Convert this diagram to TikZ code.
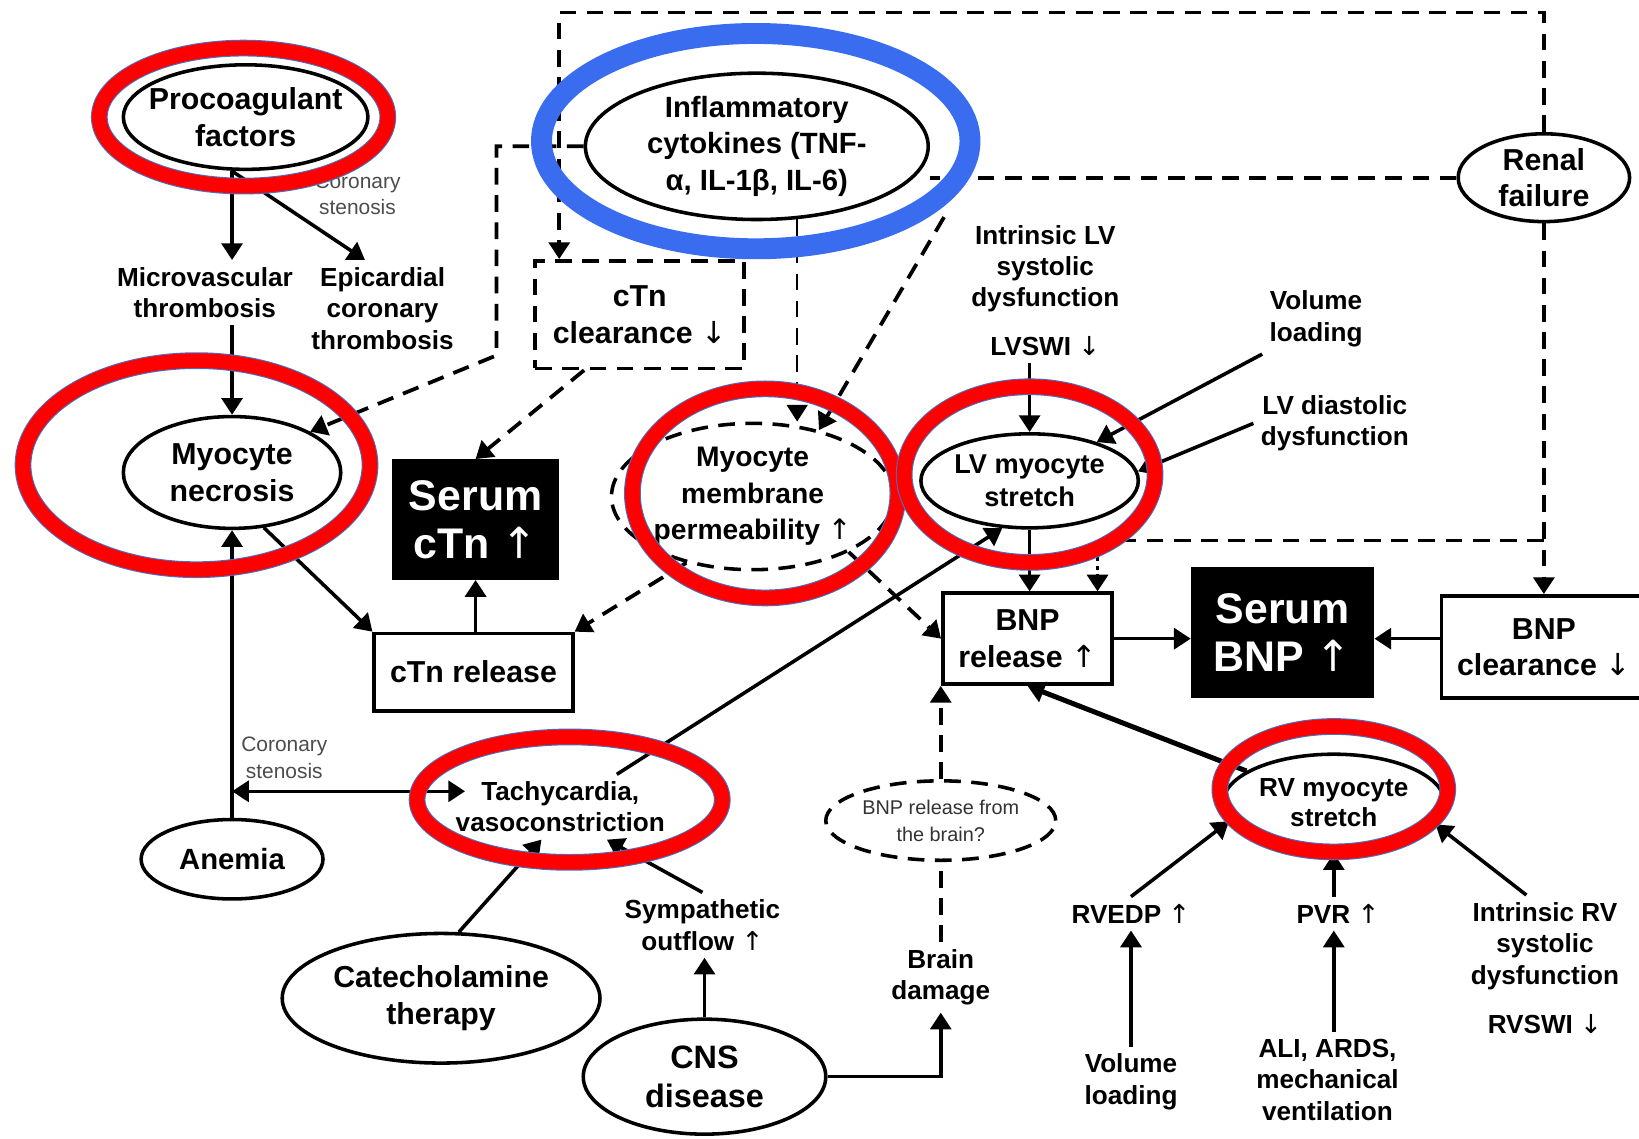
\documentclass[tikz,border=0pt]{standalone}
\usepackage{fontspec}
\setmainfont{Liberation Sans}
\newfontfamily\arrfont{DejaVu Sans}
\newcommand{\uparr}{{\arrfont\mdseries ↑}}
\newcommand{\dnarr}{{\arrfont\mdseries ↓}}
\usepackage{xcolor}
\usepackage{tikz}
\usetikzlibrary{arrows.meta, positioning, shapes.geometric, calc}
\definecolor{ringred}{RGB}{255,0,0}
\definecolor{ringedge}{RGB}{68,114,196}
\definecolor{ringblue}{RGB}{58,108,240}

\begin{document}
\begin{tikzpicture}[
  x=0.5pt, y=-0.5pt,
  oval/.style={draw, ellipse, line width=1.7pt, align=center, inner xsep=-6pt, inner ysep=-1.5pt, font=\bfseries\fontsize{14.5}{17.5}\selectfont},
  dashoval/.style={oval, dash pattern=on 8pt off 5pt},
  box/.style={draw, line width=1.7pt, align=center, inner sep=0pt, font=\bfseries\fontsize{14.5}{17.5}\selectfont},
  dashbox/.style={box, dash pattern=on 8pt off 5pt},
  serum/.style={fill=black, text=white, align=center, inner sep=0pt, font=\bfseries\fontsize{20.5}{23}\selectfont},
  txt/.style={align=center, font=\bfseries\fontsize{12.5}{15}\selectfont},
  note/.style={align=center, text=black!70, font=\fontsize{10}{12.5}\selectfont},
  arrow/.style={-{Triangle[length=8pt,width=10pt]}, line width=1.7pt},
  dblarrow/.style={{Triangle[length=8pt,width=10pt]}-{Triangle[length=8pt,width=10pt]}, line width=1.7pt},
  darrow/.style={arrow, line width=1.8pt, dash pattern=on 8pt off 5pt},
  dline/.style={line width=1.8pt, dash pattern=on 8pt off 5pt},
  redring/.style={draw=ringred, line width=7pt, preaction={draw=ringedge, line width=8pt}},
  bluering/.style={draw=ringblue, line width=10pt}
]
\useasboundingbox[fill=white] (0,0) rectangle (1568,1089);

% top row
\node[oval, minimum width=117pt, minimum height=50pt] (procoag) at (235,112) {Procoagulant\\factors};
\node[oval, minimum width=164pt, minimum height=70pt, font=\bfseries\fontsize{14}{17.5}\selectfont] (inflam) at (724,140) {Inflammatory\\cytokines (TNF-\\α, IL-1β, IL-6)};
\node[oval, minimum width=82pt, minimum height=42pt, font=\bfseries\fontsize{14.5}{17}\selectfont] (renal) at (1477,170) {Renal\\failure};
\node[txt] (micro) at (196,280) {Microvascular\\thrombosis};
\node[txt] (epi) at (366,295) {Epicardial\\coronary\\thrombosis};
\node[note] (cor1) at (342,186) {Coronary\\stenosis};
\node[dashbox, minimum width=100pt, minimum height=51.5pt] (ctnclr) at (612,301) {cTn\\clearance \dnarr};
\node[txt] (intrlv) at (1000,257) {Intrinsic LV\\systolic\\dysfunction};
\node[txt] (lvswi) at (1000,331) {LVSWI \dnarr};
\node[txt] (volload) at (1259,305) {Volume\\loading};
\node[txt] (lvdia) at (1277,405) {LV diastolic\\dysfunction};

% middle row
\node[oval, minimum width=104pt, minimum height=53.5pt] (necro) at (222,452) {Myocyte\\necrosis};
\node[serum, minimum width=80pt, minimum height=57.5pt] (serumctn) at (455,497) {Serum\\cTn \uparr};
\node[box, minimum width=95pt, minimum height=37pt] (ctnrel) at (453,643) {cTn release};
\node[dashoval, minimum width=135pt, minimum height=70pt, font=\bfseries\fontsize{13.5}{17.5}\selectfont] (memb) at (720,475) {Myocyte\\membrane\\permeability \uparr};
\node[oval, minimum width=104pt, minimum height=45pt, font=\bfseries\fontsize{13}{15.5}\selectfont] (lvs) at (985,460) {LV myocyte\\stretch};
\node[box, minimum width=81pt, minimum height=43.5pt] (bnprel) at (983,611) {BNP\\release \uparr};
\node[serum, minimum width=87.5pt, minimum height=62.5pt] (serumbnp) at (1227,605) {Serum\\BNP \uparr};
\node[box, minimum width=98pt, minimum height=49pt] (bnpclr) at (1477,619) {BNP\\clearance \dnarr};

% bottom rows
\node[note] (cor2) at (272,725) {Coronary\\stenosis};
\node[txt] (tachy) at (536,772) {Tachycardia,\\vasoconstriction};
\node[oval, minimum width=87pt, minimum height=38pt, font=\bfseries\fontsize{14}{17}\selectfont] (anemia) at (222,822) {Anemia};
\node[dashoval, minimum width=110pt, minimum height=38pt, text=black!80, font=\fontsize{9.5}{13}\selectfont] (brainrel) at (900,785) {BNP release from\\the brain?};
\node[oval, minimum width=106pt, minimum height=46.5pt, font=\bfseries\fontsize{12.5}{14.5}\selectfont] (rvs) at (1276,768) {RV myocyte\\stretch};
\node[txt] (symp) at (672,885) {Sympathetic\\outflow \uparr};
\node[txt] (brain) at (900,935) {Brain\\damage};
\node[txt] (rvedp) at (1082,874) {RVEDP \uparr};
\node[txt] (pvr) at (1280,874) {PVR \uparr};
\node[txt] (intrrv) at (1478,905) {Intrinsic RV\\systolic\\dysfunction};
\node[txt] (rvswi) at (1478,980) {RVSWI \dnarr};
\node[oval, minimum width=152pt, minimum height=62pt] (catechol) at (422,955) {Catecholamine\\therapy};
\node[oval, minimum width=116pt, minimum height=55pt, font=\bfseries\fontsize{15.5}{18.5}\selectfont] (cns) at (674,1030) {CNS\\disease};
\node[txt] (volload2) at (1082,1035) {Volume\\loading};
\node[txt] (ali) at (1270,1033) {ALI, ARDS,\\mechanical\\ventilation};

\coordinate (topc) at (535,12);
\coordinate (lc) at (475,340);
\coordinate (dj) at (1050,517);
\coordinate (cs) at (222,757);
\coordinate (inflse) at ($(inflam.south east)+(62,17)$);

% solid connectors
\draw[arrow] (procoag.south -| necro) -- (micro.north -| necro);
\draw[arrow] (procoag.south -| necro) -- (epi.110);
\draw[arrow] (micro.south -| necro) -- (necro.north);
\draw[arrow] (anemia.north) -- (necro.south);
\draw[dblarrow] (cs) -- ($(tachy.west |- cs)+(16,0)$);
\draw[arrow] (necro.-60) -- (ctnrel.north west);
\draw[arrow] (ctnrel.north -| serumctn) -- (serumctn.south);
\draw[arrow] (catechol.75) -- (tachy.240);
\draw[arrow] (symp.north) -- (tachy.-35);
\draw[arrow] (cns.north) -- (cns.north |- symp.south);
\draw[arrow] (cns.east) -| (brain.south);
\draw[arrow] (tachy.30) -- (lvs.240);
\draw[arrow] (lvswi.south -| lvs) -- (lvs.north);
\draw[arrow] (volload.south west) -- (lvs.30);
\draw[arrow] (lvdia.west) -- (lvs.5);
\draw[arrow] (lvs.south) -- (lvs.south |- bnprel.north);
\draw[arrow] (bnprel.east) -- (bnprel.east -| serumbnp.west);
\draw[arrow] (bnpclr.west |- bnprel.east) -- (bnprel.east -| serumbnp.east);
\draw[arrow, line width=2.4pt] (rvs.160) -- (bnprel.south);
\draw[arrow] (rvedp.north) -- (rvs.190);
\draw[arrow] (pvr.north -| rvs) -- (rvs.south);
\draw[arrow] (intrrv.110) -- (rvs.-12);
\draw[arrow] (volload2.north) -- (rvedp.south);
\draw[arrow] (ali.north -| rvs) -- (pvr.south -| rvs);

% dashed connectors
\draw[darrow] (renal.north) |- (topc) -- (topc |- ctnclr.north);
\draw[dline] (renal.west) -- (renal.west -| inflam.east);
\draw[darrow] (inflam.west) -| (lc) -- (necro.north east);
\draw[darrow, line width=1pt] (inflam.299) -- (inflam.299 |- memb.north);
\draw[darrow] (inflse) -- (memb.45);
\draw[darrow] (ctnclr.225) -- (serumctn.north);
\draw[darrow] (memb.225) -- (ctnrel.north east);
\draw[darrow] (memb.-30) -- (bnprel.west);
\draw[darrow] (renal.south) -- (bnpclr.north);
\draw[dline] (renal.south |- dj) -- (dj);
\draw[arrow, dash pattern=on 2pt off 2pt] (dj) -- (dj |- bnprel.north);
\draw[dline] (brain.north) -- (brainrel.south);
\draw[darrow] (brainrel.north) -- (brainrel.north |- bnprel.south);

% highlight rings
\draw[redring] (233,112) ellipse [x radius=69pt, y radius=33pt];
\draw[redring] (188,445) ellipse [x radius=83pt, y radius=50pt];
\draw[redring] (732,472) ellipse [x radius=63.5pt, y radius=50pt];
\draw[redring] (985,454) ellipse [x radius=60pt, y radius=42pt];
\draw[redring] (1276,755) ellipse [x radius=54.5pt, y radius=30pt];
\draw[redring] (545,765) ellipse [x radius=73pt, y radius=30pt];
\draw[bluering] (723,135) ellipse [x radius=102.5pt, y radius=51.5pt];
\end{tikzpicture}
\end{document}
